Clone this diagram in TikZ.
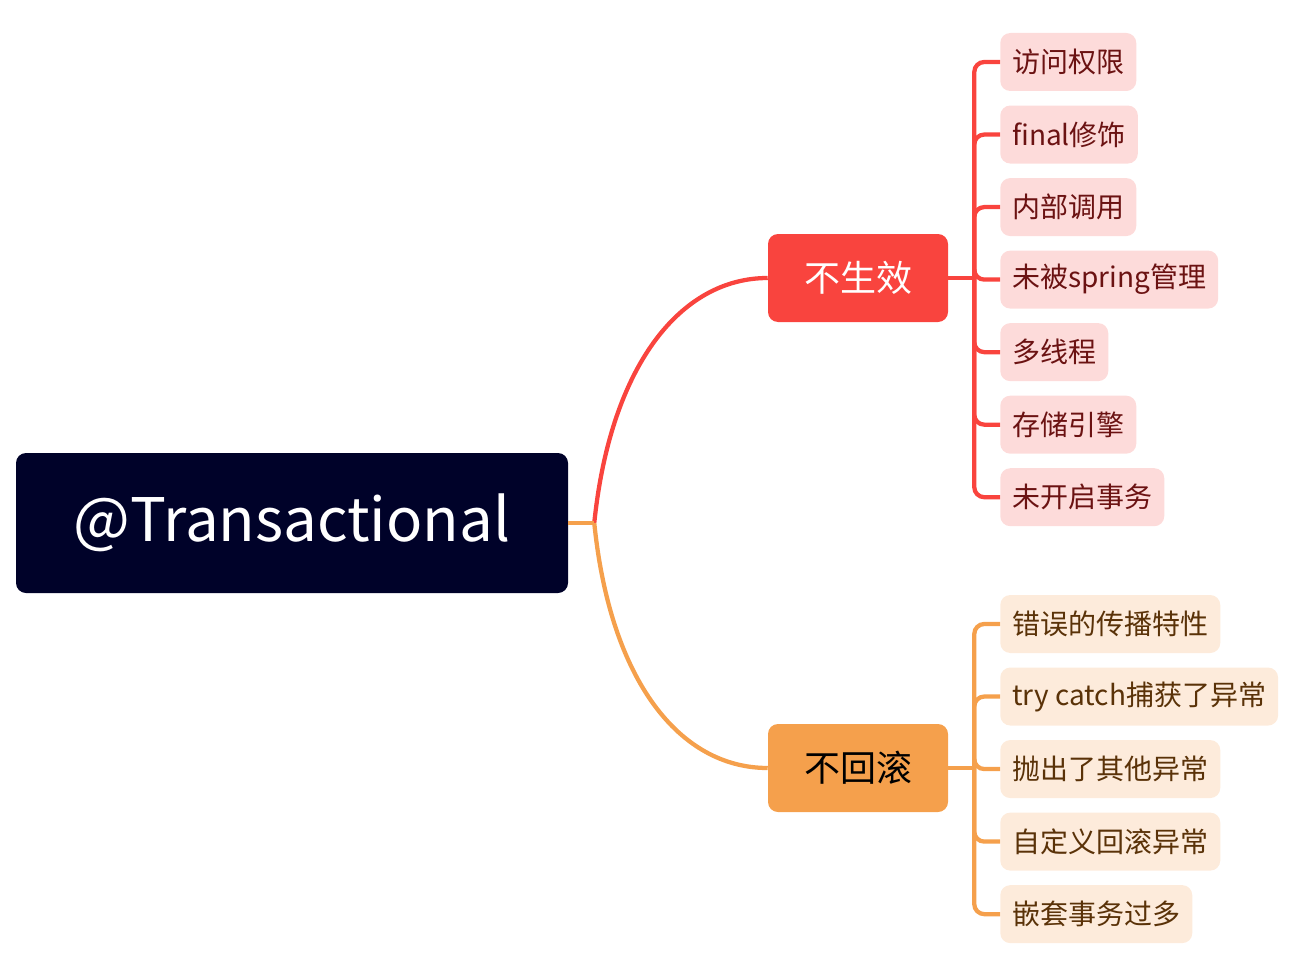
\documentclass[tikz,border=0pt]{standalone}
\usepackage{fontspec}
\setmainfont{Noto Sans CJK SC}
\usetikzlibrary{positioning}
\newlength\pxu
\setlength\pxu{0.75pt}
\definecolor{rootbg}{HTML}{000229}
\definecolor{redbr}{HTML}{F9443E}
\definecolor{orangebr}{HTML}{F5A04C}
\definecolor{rleafbg}{HTML}{FDDBDA}
\definecolor{rleaftext}{HTML}{6B1212}
\definecolor{oleafbg}{HTML}{FDEBDB}
\definecolor{oleaftext}{HTML}{5A3208}
\tikzset{
  rootbox/.style={fill=rootbg, text=white, rounded corners=10\pxu, minimum width=552\pxu, minimum height=140\pxu, font=\fontsize{45}{54}\selectfont},
  branch/.style={rounded corners=10\pxu, minimum width=180\pxu, minimum height=88\pxu, font=\fontsize{27}{32}\selectfont},
  leaf/.style={rounded corners=10\pxu, minimum height=58\pxu, inner xsep=12\pxu, inner ysep=0pt, font=\fontsize{21}{25}\selectfont, anchor=west},
  rleaf/.style={leaf, fill=rleafbg, text=rleaftext},
  oleaf/.style={leaf, fill=oleafbg, text=oleaftext},
  rline/.style={draw=redbr, line width=3.2pt},
  oline/.style={draw=orangebr, line width=3.2pt}
}
\begin{document}
\begin{tikzpicture}[x=0.75pt, y=-0.75pt]
                \useasboundingbox (0,0) rectangle (1289,956);

                \node[rootbox] (root) at (292,523) {@Transactional};
                \node[branch, fill=redbr, text=white] (nsx) at (858,278) {不生效};
                \node[branch, fill=orangebr, text=black] (nhg) at (858,768) {不回滚};

                % 不生效
                \node[rleaf] (r1) at (1000,62) {访问权限};
                \node[rleaf, below=14\pxu of r1.south west, anchor=north west] (r2) {final修饰};
                \node[rleaf, below=14\pxu of r2.south west, anchor=north west] (r3) {内部调用};
                \node[rleaf, below=14\pxu of r3.south west, anchor=north west] (r4) {未被spring管理};
                \node[rleaf, below=14\pxu of r4.south west, anchor=north west] (r5) {多线程};
                \node[rleaf, below=14\pxu of r5.south west, anchor=north west] (r6) {存储引擎};
                \node[rleaf, below=14\pxu of r6.south west, anchor=north west] (r7) {未开启事务};

                % 不回滚
                \node[oleaf] (o1) at (1000,624) {错误的传播特性};
                \node[oleaf, below=14\pxu of o1.south west, anchor=north west] (o2) {try catch捕获了异常};
                \node[oleaf, below=14\pxu of o2.south west, anchor=north west] (o3) {抛出了其他异常};
                \node[oleaf, below=14\pxu of o3.south west, anchor=north west] (o4) {自定义回滚异常};
                \node[oleaf, below=14\pxu of o4.south west, anchor=north west] (o5) {嵌套事务过多};

                \draw[rline] (nsx.east) -- ++(26,0) coordinate (rj);
                \foreach \n in {r1,r2,r3,r4,r5,r6,r7}
                    \draw[rline, rounded corners=10\pxu] (rj) |- (\n.west);
                \draw[oline] (nhg.east) -- ++(26,0) coordinate (oj);
                \foreach \n in {o1,o2,o3,o4,o5}
                    \draw[oline, rounded corners=10\pxu] (oj) |- (\n.west);

                \draw[rline] (root.east) ++(26,0) coordinate (mj) .. controls +(16,-156) and +(-88,0) .. (nsx.west);
                \draw[oline] (mj) .. controls +(16,158) and +(-88,0) .. (nhg.west);
                \draw[oline] (root.east) -- (mj);
            \end{tikzpicture}
\end{document}
